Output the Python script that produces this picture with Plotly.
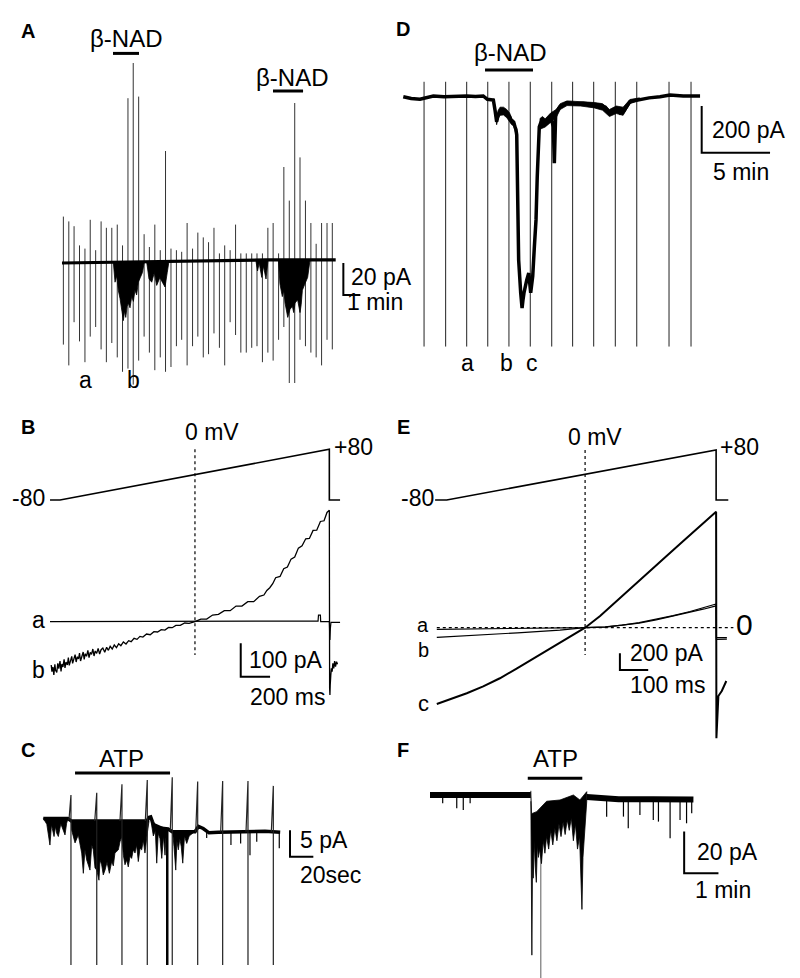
import plotly.graph_objects as go

W, H = 800, 978
OFF = 8  # page body margin compensation (px)
FONT = "Liberation Sans, Arial, sans-serif"

# ================= DATA =================
# ---- Panel A : time (min), current (pA) ----
A_ramp_t = [0.08, 0.40, 0.71, 1.03, 1.35, 1.66, 1.98, 2.30, 2.61, 2.93,
            3.25, 3.56, 3.88, 4.19, 4.51, 4.83, 5.14, 5.46, 5.78, 6.09,
            6.41, 6.73, 7.04, 7.36, 7.68, 7.99, 8.31, 8.62, 8.94, 9.26,
            9.57, 9.89, 10.21, 10.52, 10.84, 11.16, 11.47, 11.79, 12.11, 12.42,
            12.74, 13.05, 13.37, 13.69, 14.00, 14.32, 14.64, 14.95, 15.27, 15.59,
            15.90]
A_ramp_top = [29, 26, 23, 11, 9, 27, 8, 26, 22, 22,
              24, 11, 103, 125, 104, 18, 10, 24, 8, 70,
              9, 8, 7, 25, 9, 19, 16, 13, 22, 6,
              11, 8, 24, 6, 6, 6, 6, 6, 22, 25,
              6, 60, 39, 100, 66, 39, 25, 12, 25, 25,
              25]
A_ramp_bot = [-51, -64, -37, -49, -62, -46, -40, -54, -62, -50,
              -59, -68, -66, -76, -61, -46, -56, -67, -59, -68,
              -65, -52, -48, -64, -52, -46, -59, -57, -44, -53,
              -64, -37, -45, -56, -56, -53, -52, -62, -56, -61,
              -48, -40, -75, -75, -48, -52, -56, -59, -64, -48,
              -54]
A_base_t = [0, 3, 6, 9, 12, 16.1]
A_base_I = [0, 0.5, 1.0, 1.5, 1.9, 1.9]
A_burst1_t = [3.02, 3.12, 3.22, 3.31, 3.41, 3.51, 3.61, 3.68, 3.75, 3.83,
              3.90, 4.00, 4.10, 4.20, 4.29, 4.39, 4.49, 4.61, 4.73, 4.84]
A_burst1_I = [0.5, -12, -8, -17, -22, -29, -36, -30, -34, -27,
              -25, -28, -21, -24, -17, -20, -12, -9, -6, 0.6]
A_burst2_t = [4.98, 5.12, 5.28, 5.43, 5.57, 5.76, 5.90, 6.06, 6.19, 6.29]
A_burst2_I = [0.7, -10, -12, -6, -14, -9, -12, -15, -6, 0.9]
A_burst3_t = [11.40, 11.50, 11.60, 11.75, 11.85, 12.00, 12.12]
A_burst3_I = [1.8, -5, 0, -9, -2, -10, 1.9]
A_burst4_t = [12.73, 12.82, 12.96, 13.05, 13.12, 13.20, 13.28, 13.41, 13.55,
              13.63, 13.71, 13.86, 14.00, 14.07, 14.14, 14.29, 14.45, 14.59]
A_burst4_I = [1.9, -13, -21, -17, -25, -29, -34, -29, -27,
              -31, -25, -23, -31, -26, -17, -13, -9, 1.9]
A_nad_on = [3.00, 12.41]
A_nad_off = [4.53, 14.18]

# ---- Panel D : time (min), current (pA) ----
D_t = [0.02, 0.6, 1.24, 1.8, 2.22, 3.0, 3.6, 4.66, 5.3, 5.87,
       6.17, 6.40, 6.61, 6.73, 6.85, 6.95, 7.10, 7.35, 7.59, 7.80,
       7.95, 8.10, 8.19, 8.26, 8.32, 8.36, 8.46, 8.61, 8.71, 8.78,
       8.85, 9.05, 9.20, 9.34, 9.40, 9.49, 9.61, 9.73, 9.82, 9.97,
       10.15, 10.35, 10.51, 10.65, 10.80, 11.0, 11.07, 11.17, 11.49, 11.98,
       12.6, 13.19, 13.8, 14.41, 14.8, 15.14, 15.4, 15.63, 15.9, 16.12,
       16.61, 17.34, 18.0, 18.80, 19.53, 20.5, 21.73]
D_I = [0, -8, -11, -3, 3, 0, 2, 3, 1, 3,
       -11, -12, -14, -57, -107, -80, -64, -60, -71, -85,
       -107, -110, -129, -140, -164, -413, -700, -841, -906, -870,
       -841, -786, -756, -841, -800, -769, -643, -528, -343, -129,
       -100, -120, -114, -95, -86, -129, -285, -71, -43, -26,
       -30, -28, -32, -36, -45, -71, -55, -50, -70, -64,
       -21, -11, -5, 0, 7, 3, 3]
# noisy band envelopes (upper / lower) of the trace
D_band_t = [6.61, 6.73, 6.85, 6.95, 7.10, 7.35, 7.59, 7.80, 7.95, 8.10, 8.19, 8.32,
            10.0, 10.2, 10.4, 10.6, 10.8, 11.2, 11.5, 12.0, 13.0, 14.0, 14.6, 15.1, 15.6, 16.1, 16.6, 17.3]
D_band_up = [-8, -40, -90, -60, -45, -45, -55, -70, -95, -100, -115, -140,
             -95, -85, -95, -80, -70, -55, -30, -18, -20, -25, -30, -55, -40, -45, -12, -5]
D_band_lo = [-18, -75, -120, -95, -80, -78, -90, -105, -120, -125, -140, -175,
             -140, -135, -130, -120, -110, -90, -55, -38, -40, -48, -58, -85, -72, -80, -30, -15]
D_ramp_t = [1.54, 3.12, 4.66, 6.20, 7.75, 9.31, 10.88, 12.41, 13.95, 15.53, 17.10, 19.46, 21.07]
D_ramp_top = 64
D_ramp_bot = -1071
D_nad_on, D_nad_off = 6.0, 9.51

# ---- Panel B : time (ms), voltage (mV), current (pA) ----
B_V_t = [-68, 0, 1836, 1836, 1909]
B_V_mV = [-80, -80, 80, -80, -80]
B_a_t = [-68, 1757, 1759, 1762, 1775, 1777, 1836, 1838, 1840, 1843, 1847, 1909]
B_a_I = [0, 0, 2, 20, 20, 0, 0, -30, -55, -20, -2, -2]
B_b_t = [-60, -55, -48, -42, -35, -30, -22, -15, -8, 0, 7, 13, 20, 28, 34, 41, 50, 57, 63, 72,
         80, 86, 95, 103, 110, 118, 126, 133, 140, 149, 158, 165, 172, 181, 190, 198, 206, 215, 224, 232,
         240, 250, 260, 270, 280, 292, 305, 318, 330, 342, 356, 370, 385, 400, 415, 432, 450, 468, 485, 505,
         525, 545, 565, 590, 615, 640, 665, 690, 715, 740, 765, 790, 820, 850, 880, 920, 960, 1000, 1040, 1080,
         1120, 1160, 1200, 1240, 1280, 1320, 1360, 1390, 1410, 1430, 1450, 1470, 1500, 1525, 1550, 1575, 1600, 1625, 1650, 1675,
         1700, 1725, 1750, 1775, 1800, 1820, 1836, 1838, 1840, 1842, 1846, 1850, 1855, 1860, 1866, 1872, 1878, 1885, 1892]
B_b_I = [-130, -150, -136, -160, -128, -146, -152, -125, -141, -118, -149, -127, -136, -113, -139, -121, -130, -108, -131, -115,
         -104, -125, -110, -99, -121, -105, -112, -94, -118, -100, -91, -113, -96, -104, -86, -108, -92, -98, -82, -103,
         -88, -95, -80, -97, -84, -79, -92, -77, -86, -74, -82, -70, -78, -66, -72, -61, -67, -57, -60, -50,
         -53, -44, -46, -37, -39, -30, -31, -24, -25, -17, -18, -11, -11, -4, -5, 0, 8, 8, 20, 22,
         33, 33, 47, 47, 60, 60, 76, 80, 94, 102, 114, 132, 136, 159, 164, 188, 194, 221, 228, 249,
         250, 274, 275, 301, 303, 328, 335, -200, -220, -190, -160, -140, -150, -125, -140, -118, -135, -120, -128]
B_zero_t = 920

# ---- Panel E : time (ms), voltage (mV), current (pA) ----
E_V_t = [-41, 0, 952, 952, 995]
E_V_mV = [-80, -80, 80, -80, -80]
E_c_t = [-35, 12, 71, 129, 188, 247, 306, 365, 424, 489, 542, 601, 659, 718, 777, 836, 895, 952,
         953, 956, 960, 966, 972, 980, 988]
E_c_I = [-916, -858, -787, -704, -607, -490, -370, -250, -127, 0, 140, 318, 498, 680, 860, 1040, 1215, 1392,
         -1328, -1000, -820, -790, -760, -700, -640]
E_ab_t = [-35, 100, 250, 400, 489, 560, 620, 680, 740, 800, 860, 910, 952, 953, 990]
E_a_I = [-19, -15, -10, -4, 0, 10, 30, 60, 100, 145, 195, 240, 284, -118, -118]
E_b_I = [-115, -92, -62, -30, 0, 8, 28, 56, 95, 138, 185, 225, 262, -140, -138]
E_zero_t = 489

# ---- Panel C : time (s), current (pA) ----
C_ramp_t = [23.7, 45.8, 67.4, 89.1, 110.5, 132.3, 153.7, 175.4, 197.1]
C_ramp_top = [4.7, 5.1, 6.7, 7.5, 8.0, 7.2, 7.3, 7.3, 6.4]
C_ramp_base = [0.0, -0.2, -0.2, -0.2, -2.0, -2.2, -2.2, -2.2, -2.2]
C_ramp_bot = -27.2
C_extra_t = [105.8, 106.6]
C_base_t = [0, 21, 24, 60, 89, 90.5, 92, 93.5, 95.5, 106.9, 110.5, 130, 133, 137, 142, 150, 170, 190, 203]
C_base_I = [0.3, 0.3, -0.2, -0.2, -0.2, 0.5, 0.6, -0.3, -1.4, -1.7, -2.2, -2.2, -1.2, -1.6, -2.4, -2.3, -2.2, -2.1, -2.3]
C_pre_t = [0, 3, 5.7, 7, 9.2, 10.5, 11.5, 12.9, 15, 18.6, 20, 21.2]
C_pre_I = [0.3, -0.8, -4.7, -0.9, -3.1, -1.2, -2.5, -3.1, -0.7, -2.8, -0.6, 0.3]
C_b1_t = [24.0, 24.3, 27.2, 30.0, 32.9, 34.3, 35.7, 37.2, 40.0, 41.5, 42.8,
          44.3, 45.8, 47.7, 48.6, 50.0, 51.4, 52.9, 54.6, 56.6, 58.6,
          60.0, 61.4, 64.3, 65.7, 67.2, 68.6, 70.0, 71.5, 72.8, 74.3,
          75.7, 77.1, 78.6, 80.0, 81.4, 82.9, 84.3, 85.7, 87.1, 89.1, 90.5, 90.6]
C_b1_I = [-0.2, -1.9, -4.3, -2.8, -6.2, -10.0, -5.6, -7.5, -9.4, -4.7, -5.6,
          -9.0, -9.4, -11.3, -7.5, -8.4, -10.3, -9.4, -7.9, -10.0, -7.8,
          -8.6, -6.2, -5.6, -4.1, -3.1, -6.6, -8.4, -7.5, -8.8, -6.8,
          -7.2, -5.6, -6.2, -4.7, -7.8, -5.3, -5.6, -3.8, -6.2, -2.5, -0.6, -0.2]
C_p1_t = [92.3, 92.5, 94.3, 96, 97.2, 98.5, 100, 101.5, 103, 104.3, 105.5, 105.6]
C_p1_I = [-0.3, -0.5, -3, -2, -8.1, -2.5, -3.5, -7.2, -3, -6.6, -1.8, -1.6]
C_p2_t = [110.6, 110.8, 112, 113.5, 114.5, 115.7, 117, 118.2, 119.5, 121, 122.9, 125, 128.5, 128.6]
C_p2_I = [-2.0, -2.2, -5, -9.4, -4, -5.6, -3.5, -5, -8.1, -3, -4.4, -3, -2.4, -2.2]
C_dip_t = [140, 160.8, 169.1, 177.1, 182.9, 202.2]
C_dip_I = [-3.4, -4.7, -4.4, -6.6, -4.1, -5.3]
C_atp_on, C_atp_off = 27.2, 108.6

# ---- Panel F : time (min), current (pA) ----
F_pre_t = [0, 1.0, 2.0, 2.94]
F_pre_I = [0, 0, 0.3, 0]
F_post_t = [4.57, 5.5, 6.5, 7.68]
F_post_I = [-1.0, -2.0, -2.0, -2.2]
F_up_t = [2.94, 2.96, 3.11, 3.40, 3.79, 4.18, 4.37, 4.52, 4.57]
F_up_I = [2.0, -9, -8, -3, -2.4, 0, -2.4, 1, 1.6]
F_lo_t = [2.94, 2.97, 2.99, 3.01, 3.04, 3.07, 3.10, 3.13, 3.16, 3.20, 3.25, 3.30, 3.35, 3.40, 3.46, 3.52,
          3.58, 3.64, 3.70, 3.76, 3.82, 3.88, 3.94, 4.00, 4.06, 4.12, 4.18, 4.24, 4.30, 4.36, 4.40, 4.43,
          4.46, 4.50, 4.54, 4.57]
F_lo_I = [-3, -77, -30, -40, -22, -35, -42, -24, -30, -26, -33, -22, -28, -20, -26, -17,
          -24, -16, -22, -14, -20, -13, -19, -12, -17, -11, -22, -14, -26, -20, -40, -55,
          -30, -18, -10, -3]
F_gray_t = 3.23
F_gray_I = [-10, -90]
F_dip_t = [0.37, 0.78, 0.97, 1.17, 5.15, 5.64, 5.78, 6.12, 6.51, 6.66, 7.00, 7.29, 7.48, 7.63]
F_dip_I = [-4, -6.4, -7.2, -4, -10.4, -10.4, -16, -9.6, -12, -12.8, -20.8, -12, -13.6, -8.8]
F_atp_on, F_atp_off = 2.85, 4.44

# ================= AXES (pixel box -> data mapping) =================
def xax(px0, px1, px_ref, v_ref, ppu, anchor):
    return dict(domain=[(px0 - OFF) / W, (px1 - OFF) / W],
                range=[v_ref + (px0 - px_ref) / ppu, v_ref + (px1 - px_ref) / ppu],
                visible=False, anchor=anchor, fixedrange=True)

def yax(py_top, py_bot, py_ref, v_ref, ppu, anchor):
    return dict(domain=[1 - (py_bot - OFF) / H, 1 - (py_top - OFF) / H],
                range=[v_ref + (py_ref - py_bot) / ppu, v_ref + (py_ref - py_top) / ppu],
                visible=False, anchor=anchor, fixedrange=True)

fig = go.Figure()
BLK = "#000000"

def line(x, y, xa, ya, width=1.0, color=BLK, dash=None):
    fig.add_trace(go.Scatter(x=x, y=y, mode="lines", xaxis=xa, yaxis=ya,
                             line=dict(color=color, width=width, dash=dash),
                             hoverinfo="skip", showlegend=False))

def poly(x, y, xa, ya, color=BLK):
    fig.add_trace(go.Scatter(x=x, y=y, mode="lines", fill="toself", fillcolor=color,
                             xaxis=xa, yaxis=ya, line=dict(color=color, width=0.8),
                             hoverinfo="skip", showlegend=False))

def vsegs(ts, tops, bots, xa, ya, width=1.0, color=BLK):
    xs, ys = [], []
    for t, a, b in zip(ts, tops, bots):
        xs += [t, t, None]
        ys += [a, b, None]
    line(xs, ys, xa, ya, width, color)

# ---- Panel A ----
vsegs(A_ramp_t, A_ramp_top, A_ramp_bot, "x", "y", 1.0, "#333333")
for bt, bi in [(A_burst1_t, A_burst1_I), (A_burst2_t, A_burst2_I),
               (A_burst3_t, A_burst3_I), (A_burst4_t, A_burst4_I)]:
    poly(bt, bi, "x", "y")
line(A_base_t, A_base_I, "x", "y", 3.2)
line([A_nad_on[0], A_nad_off[0]], [131, 131], "x", "y", 3.0)
line([A_nad_on[1], A_nad_off[1]], [107.5, 107.5], "x", "y", 3.0)
line([16.55, 16.55, 17.55], [0, -20, -20], "x", "y", 2.0)

# ---- Panel D ----
vsegs(D_ramp_t, [D_ramp_top] * len(D_ramp_t), [D_ramp_bot] * len(D_ramp_t), "x2", "y2", 1.0, "#222222")
poly(D_band_t[:12] + D_band_t[:12][::-1], D_band_up[:12] + D_band_lo[:12][::-1], "x2", "y2")
poly(D_band_t[12:] + D_band_t[12:][::-1], D_band_up[12:] + D_band_lo[12:][::-1], "x2", "y2")
line(D_t, D_I, "x2", "y2", 3.5)
line([D_nad_on, D_nad_off], [114, 114], "x2", "y2", 3.0)
line([21.85, 21.85, 26.85], [-40, -240, -240], "x2", "y2", 2.0)

# ---- Panel B ----
line(B_V_t, B_V_mV, "x3", "y3", 1.6)
line([B_zero_t, B_zero_t], [518, -100], "x3", "y4", 1.2, dash="dot")
line(B_a_t, B_a_I, "x3", "y4", 1.2)
line(B_b_t, B_b_I, "x3", "y4", 1.3)
line([1232, 1232, 1432], [-65, -165, -165], "x3", "y4", 2.0)

# ---- Panel E ----
line(E_V_t, E_V_mV, "x4", "y5", 1.6)
line([E_zero_t, E_zero_t], [2133, -328], "x4", "y6", 1.2, dash="dot")
line([-35, 1013], [0, 0], "x4", "y6", 1.2, dash="dot")
line(E_ab_t, E_a_I, "x4", "y6", 1.2)
line(E_ab_t, E_b_I, "x4", "y6", 1.2)
line(E_c_t, E_c_I, "x4", "y6", 2.0)
line([612, 612, 712], [-307, -508, -508], "x4", "y6", 2.0)

# ---- Panel C ----
for bt, bi in [(C_pre_t, C_pre_I), (C_b1_t, C_b1_I), (C_p1_t, C_p1_I), (C_p2_t, C_p2_I)]:
    poly(bt, bi, "x5", "y7")
vsegs(C_dip_t, [-2.2] * len(C_dip_t), C_dip_I, "x5", "y7", 1.2)
line(C_base_t, C_base_I, "x5", "y7", 3.5)
xs, ys = [], []
for t, top, base in zip(C_ramp_t, C_ramp_top, C_ramp_base):
    xs += [t - 1.7, t, t, None]
    ys += [base, top, C_ramp_bot, None]
line(xs, ys, "x5", "y7", 1.2, "#222222")
vsegs(C_extra_t, [-1.6, -1.6], [C_ramp_bot, C_ramp_bot], "x5", "y7", 1.6)
line([C_atp_on, C_atp_off], [8.8, 8.8], "x5", "y7", 3.0)
line([211.4, 211.4, 231.4], [-1.9, -6.9, -6.9], "x5", "y7", 2.0)

# ---- Panel F ----
line([F_gray_t, F_gray_t], F_gray_I, "x6", "y8", 1.2, "#777777")
poly(F_up_t + F_lo_t[::-1], F_up_I + F_lo_I[::-1], "x6", "y8")
vsegs(F_dip_t, [0 if t < 3 else -2 for t in F_dip_t], F_dip_I, "x6", "y8", 1.2)
line(F_pre_t, F_pre_I, "x6", "y8", 6.0)
line(F_post_t, F_post_I, "x6", "y8", 6.0)
line([F_atp_on, F_atp_off], [8.0, 8.0], "x6", "y8", 3.0)
line([7.41, 7.41, 8.41], [-17.6, -37.6, -37.6], "x6", "y8", 2.0)

# ================= TEXT =================
anns = []
def txt(s, px, py, size=23, xanchor="center", bold=False):
    anns.append(dict(text=("<b>%s</b>" % s) if bold else s,
                     x=(px - OFF) / W, y=1 - (py - OFF) / H,
                     xref="paper", yref="paper", xanchor=xanchor, yanchor="middle",
                     showarrow=False, font=dict(family=FONT, size=size, color=BLK)))

LET = 20
# panel letters
txt("A", 28, 31, LET, bold=True)
txt("D", 403, 29, LET, bold=True)
txt("B", 28, 427, LET, bold=True)
txt("E", 403, 427, LET, bold=True)
txt("C", 28, 750, LET, bold=True)
txt("F", 403, 750, LET, bold=True)
# A
txt("β-NAD", 126, 38, 24)
txt("β-NAD", 292, 77, 24)
txt("20 pA", 349, 277, 23, "left")
txt("1 min", 345, 302, 23, "left")
txt("a", 85, 380, 23)
txt("b", 133, 380, 23)
# D
txt("β-NAD", 510, 53, 24)
txt("200 pA", 710, 130, 23, "left")
txt("5 min", 741, 172, 23)
txt("a", 467, 363, 23)
txt("b", 506, 363, 23)
txt("c", 532, 363, 23)
# B
txt("0 mV", 212, 432, 23)
txt("+80", 353, 447, 23)
txt("-80", 28, 498, 23)
txt("a", 38, 620, 23)
txt("b", 38, 670, 23)
txt("100 pA", 247, 660, 23, "left")
txt("200 ms", 287, 697, 23)
# E
txt("0 mV", 595, 437, 23)
txt("+80", 739, 447, 23)
txt("-80", 418, 498, 23)
txt("0", 734, 624, 30, "left")
txt("a", 423, 625, 20)
txt("b", 423, 650, 20)
txt("c", 423, 703, 22)
txt("200 pA", 628, 653, 23, "left")
txt("100 ms", 667, 685, 23)
# C
txt("ATP", 122, 758, 24)
txt("5 pA", 298, 840, 23, "left")
txt("20sec", 330, 875, 23)
# F
txt("ATP", 555, 758, 24)
txt("20 pA", 695, 852, 23, "left")
txt("1 min", 723, 890, 23)

fig.update_layout(
    width=W, height=H, margin=dict(l=0, r=0, t=0, b=0),
    paper_bgcolor="white", plot_bgcolor="rgba(0,0,0,0)", showlegend=False,
    annotations=anns,
    xaxis=xax(40, 400, 62, 0, 17, "y"),
    yaxis=yax(40, 400, 263, 0, 1.6, "x"),
    xaxis2=xax(400, 800, 403, 0, 13.67, "y2"),
    yaxis2=yax(40, 400, 96.7, 0, 0.2333, "x2"),
    xaxis3=xax(10, 400, 60, 0, 0.1467, "y3"),
    yaxis3=yax(400, 720, 500, -80, 0.3169, "x3"),
    yaxis4=yax(400, 720, 621.7, 0, 0.333, "x3"),
    xaxis4=xax(400, 800, 446.7, 0, 0.283, "y5"),
    yaxis5=yax(400, 760, 500, -80, 0.3125, "x4"),
    yaxis6=yax(400, 760, 627.7, 0, 0.0833, "x4"),
    xaxis5=xax(10, 400, 43.3, 0, 1.167, "y7"),
    yaxis7=yax(740, 978, 820, 0, 5.33, "x5"),
    xaxis6=xax(400, 800, 430, 0, 34.3, "y8"),
    yaxis8=yax(740, 978, 795, 0, 2.08, "x6"),
)

fig.write_html("out.html")
